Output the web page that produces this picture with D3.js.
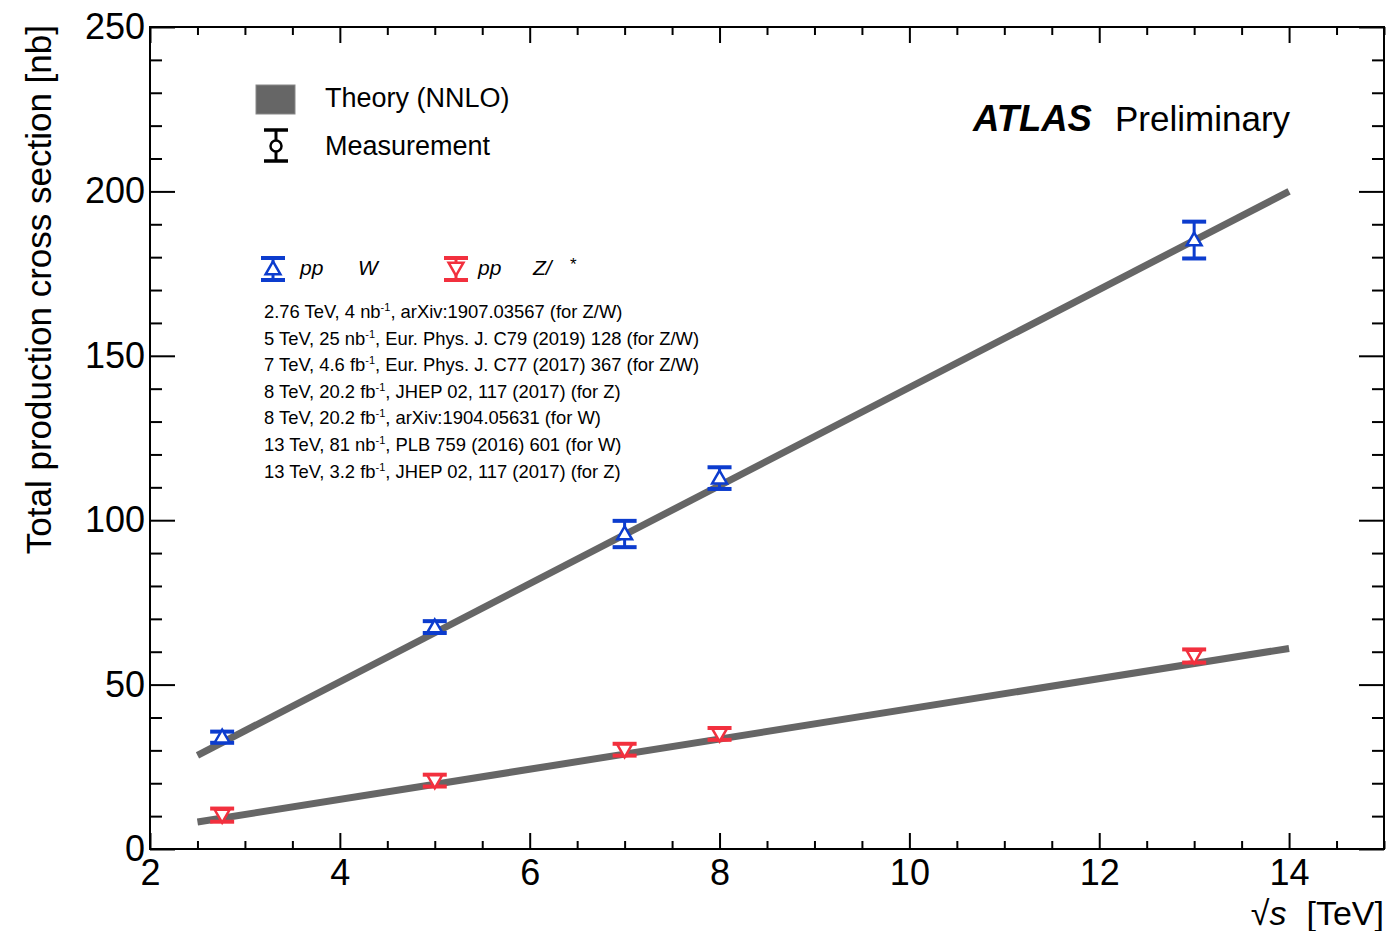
<!DOCTYPE html>
<html>
<head>
<meta charset="utf-8">
<script src="https://cdn.jsdelivr.net/npm/d3@7"></script>
<style>
  body { margin: 0; background: #fff; }
  text { font-family: "Liberation Sans", Arial, sans-serif; }
</style>
</head>
<body>
<div id="chart"></div>
<script>
// -- data --
const energies = [2.76, 5, 7, 8, 13];
const wValues = [34.0, 67.5, 95.8, 112.8, 185.2];
const wErrors = [1.7, 1.8, 4.0, 3.3, 5.6];
const zValues = [10.3, 20.8, 30.2, 35.0, 58.7];
const zErrors = [2.0, 1.8, 1.8, 1.8, 2.0];

// theory (NNLO) lines, endpoints
const theoryX = [2.5, 14];
const wTheory = [28.5, 200];
const zTheory = [8.2, 61];

const xMajor = [2, 4, 6, 8, 10, 12, 14];
const yMajor = [0, 50, 100, 150, 200, 250];

const refLines = [
  ["2.76 TeV, 4 nb", ", arXiv:1907.03567 (for Z/W)"],
  ["5 TeV, 25 nb", ", Eur. Phys. J. C79 (2019) 128 (for Z/W)"],
  ["7 TeV, 4.6 fb", ", Eur. Phys. J. C77 (2017) 367 (for Z/W)"],
  ["8 TeV, 20.2 fb", ", JHEP 02, 117 (2017) (for Z)"],
  ["8 TeV, 20.2 fb", ", arXiv:1904.05631 (for W)"],
  ["13 TeV, 81 nb", ", PLB 759 (2016) 601 (for W)"],
  ["13 TeV, 3.2 fb", ", JHEP 02, 117 (2017) (for Z)"]
];

const BLUE = "#0c3cce";
const RED = "#f2303e";
const GREY = "#666666";

const W = 1391, H = 931;
const pLeft = 150, pRight = 1384, pTop = 27, pBottom = 849;

var svg = d3.select("#chart").append("svg")
  .attr("width", W)
  .attr("height", H);

svg.append("rect").attr("width", W).attr("height", H).attr("fill", "#fff");

var x = d3.scaleLinear().domain([2, 15]).range([pLeft, pRight]);
var y = d3.scaleLinear().domain([0, 250]).range([pBottom, pTop]);

const xMinor = d3.range(2.5, 15.01, 0.5).filter(v => v % 2 !== 0);
const yMinor = d3.range(10, 250, 10).filter(v => v % 50 !== 0);

// --axes (ticks inward, ROOT style)--
function styleAxis(g) {
  g.select(".domain").remove();
  g.selectAll("line").attr("stroke", "#000").attr("stroke-width", 2);
  g.selectAll("text")
    .attr("fill", "#000")
    .style("font-family", "Liberation Sans, Arial, sans-serif")
    .style("font-size", "36px");
}

svg.append("g").attr("transform", `translate(0,${pBottom})`)
  .call(d3.axisBottom(x).tickValues(xMajor).tickSizeInner(-16).tickSizeOuter(0).tickPadding(10).tickFormat(d3.format("d")))
  .call(styleAxis);
svg.append("g").attr("transform", `translate(0,${pBottom})`)
  .call(d3.axisBottom(x).tickValues(xMinor).tickSizeInner(-8).tickSizeOuter(0).tickFormat(""))
  .call(styleAxis);
svg.append("g").attr("transform", `translate(0,${pTop})`)
  .call(d3.axisTop(x).tickValues(xMajor).tickSizeInner(-16).tickSizeOuter(0).tickFormat(""))
  .call(styleAxis);
svg.append("g").attr("transform", `translate(0,${pTop})`)
  .call(d3.axisTop(x).tickValues(xMinor).tickSizeInner(-8).tickSizeOuter(0).tickFormat(""))
  .call(styleAxis);

svg.append("g").attr("transform", `translate(${pLeft},0)`)
  .call(d3.axisLeft(y).tickValues(yMajor).tickSizeInner(-25).tickSizeOuter(0).tickPadding(5))
  .call(styleAxis);
svg.append("g").attr("transform", `translate(${pLeft},0)`)
  .call(d3.axisLeft(y).tickValues(yMinor).tickSizeInner(-12).tickSizeOuter(0).tickFormat(""))
  .call(styleAxis);
svg.append("g").attr("transform", `translate(${pRight},0)`)
  .call(d3.axisRight(y).tickValues(yMajor).tickSizeInner(-25).tickSizeOuter(0).tickFormat(""))
  .call(styleAxis);
svg.append("g").attr("transform", `translate(${pRight},0)`)
  .call(d3.axisRight(y).tickValues(yMinor).tickSizeInner(-12).tickSizeOuter(0).tickFormat(""))
  .call(styleAxis);

// frame
svg.append("rect")
  .attr("x", pLeft).attr("y", pTop)
  .attr("width", pRight - pLeft).attr("height", pBottom - pTop)
  .attr("fill", "none").attr("stroke", "#000").attr("stroke-width", 2);

// axis titles
svg.append("text")
  .attr("transform", `translate(51,${pTop - 2}) rotate(-90)`)
  .attr("text-anchor", "end")
  .style("font-size", "35px")
  .text("Total production cross section [nb]");

var xt = svg.append("text")
  .attr("x", pRight).attr("y", 925)
  .attr("text-anchor", "end")
  .style("font-size", "34px");
xt.append("tspan").text("\u221A");
xt.append("tspan").style("font-style", "italic").text("s");
xt.append("tspan").attr("dx", 20).text("[TeV]");

// --theory lines--
var line = d3.line().x(d => x(d[0])).y(d => y(d[1]));
[wTheory, zTheory].forEach(function(t) {
  svg.append("path")
    .datum(theoryX.map((v, i) => [v, t[i]]))
    .attr("d", line)
    .attr("fill", "none")
    .attr("stroke", GREY)
    .attr("stroke-width", 7);
});

// --measurements--
var triUp = d3.symbol().type(d3.symbolTriangle).size(95);

function drawPoint(g, cx, cyTop, cyMid, cyBot, color, down) {
  g.append("line")
    .attr("x1", cx).attr("x2", cx).attr("y1", cyTop).attr("y2", cyBot)
    .attr("stroke", color).attr("stroke-width", 3);
  [cyTop, cyBot].forEach(function(cy) {
    g.append("line")
      .attr("x1", cx - 12).attr("x2", cx + 12).attr("y1", cy).attr("y2", cy)
      .attr("stroke", color).attr("stroke-width", 4);
  });
  g.append("path")
    .attr("d", triUp())
    .attr("transform", `translate(${cx},${cyMid + (down ? -1 : 1)}) rotate(${down ? 180 : 0})`)
    .attr("fill", "#fff")
    .attr("stroke", color)
    .attr("stroke-width", 2.5);
}

var pts = svg.append("g");
energies.forEach(function(e, i) {
  drawPoint(pts, x(e), y(wValues[i] + wErrors[i]), y(wValues[i]), y(wValues[i] - wErrors[i]), BLUE, false);
  drawPoint(pts, x(e), y(zValues[i] + zErrors[i]), y(zValues[i]), y(zValues[i] - zErrors[i]), RED, true);
});

// --legend--
svg.append("rect")
  .attr("x", 256).attr("y", 85).attr("width", 39).attr("height", 29)
  .attr("fill", GREY).attr("stroke", "#888").attr("stroke-width", 1);
svg.append("text").attr("x", 325).attr("y", 107).style("font-size", "27px").text("Theory (NNLO)");

var lg = svg.append("g");
lg.append("line").attr("x1", 276).attr("x2", 276).attr("y1", 130).attr("y2", 161)
  .attr("stroke", "#000").attr("stroke-width", 3);
[130, 161].forEach(cy => lg.append("line").attr("x1", 264).attr("x2", 288).attr("y1", cy).attr("y2", cy)
  .attr("stroke", "#000").attr("stroke-width", 3.5));
lg.append("circle").attr("cx", 276).attr("cy", 146).attr("r", 5.5)
  .attr("fill", "#fff").attr("stroke", "#000").attr("stroke-width", 2.5);
svg.append("text").attr("x", 325).attr("y", 155).style("font-size", "27px").text("Measurement");

drawPoint(lg, 273, 258, 269, 280, BLUE, false);
drawPoint(lg, 456, 258, 268, 280, RED, true);

function it(xp, txt, size) {
  return svg.append("text").attr("x", xp).attr("y", 275)
    .style("font-size", (size || 21) + "px").style("font-style", "italic").text(txt);
}
it(300, "pp");
it(358, "W");
it(478, "pp");
it(533, "Z/");
svg.append("text").attr("x", 570).attr("y", 270).style("font-size", "17px").text("*");

// reference lines
refLines.forEach(function(r, i) {
  var t = svg.append("text")
    .attr("x", 264).attr("y", 318 + i * 26.6)
    .style("font-size", "18.4px");
  t.append("tspan").text(r[0]);
  t.append("tspan").attr("dy", -7).style("font-size", "11px").text("-1");
  t.append("tspan").attr("dy", 7).text(r[1]);
});

// ATLAS label
var at = svg.append("text").attr("x", 973).attr("y", 131).style("font-size", "35px");
at.append("tspan").style("font-weight", "bold").style("font-style", "italic").style("font-size", "36.5px").text("ATLAS");
at.append("tspan").attr("x", 1115).text("Preliminary");
</script>
</body>
</html>
